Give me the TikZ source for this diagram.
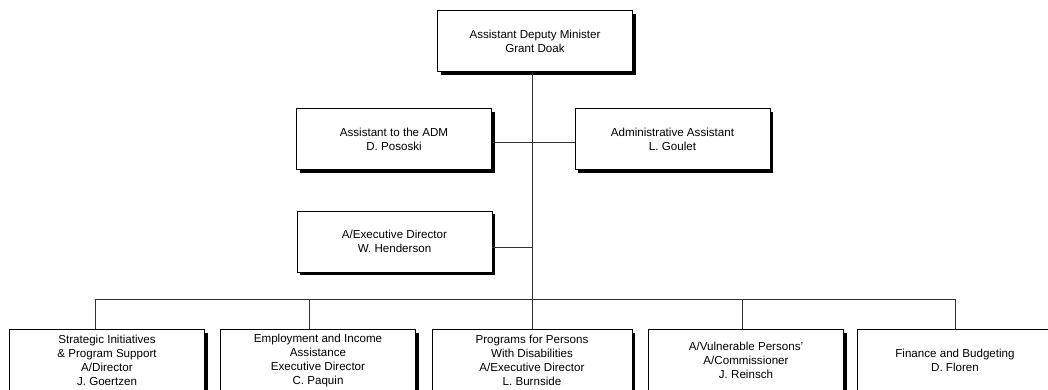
\documentclass[tikz,border=0pt]{standalone}
\usepackage{fontspec}
\setmainfont{Liberation Sans}
\usetikzlibrary{positioning,shadows}

\begin{document}
\begin{tikzpicture}[x=1pt,y=-1pt,
  orgbox/.style={draw=black, fill=white, line width=0.9pt, minimum width=195pt, minimum height=61pt,
    inner sep=0pt, align=center, font=\fontsize{11.6}{14}\selectfont,
    drop shadow={shadow xshift=3.2pt, shadow yshift=-3.2pt, fill=black, opacity=1}},
  orgline/.style={draw=black!80, line width=0.9pt}]

\useasboundingbox[fill=white] (0,0) rectangle (1048,389);

\coordinate (bus) at (532,299);
\coordinate (hubA) at (532,142);
\coordinate (hubB) at (532,247);

\node[orgbox] (adm) at (535,41) {Assistant Deputy Minister\\Grant Doak};

\node[orgbox] (asst) at (394,139) {Assistant to the ADM\\D. Pososki};
\node[orgbox] (admin) at (672.5,139) {Administrative Assistant\\L. Goulet};

\node[orgbox] (exec) at (394.5,241.5) {A/Executive Director\\W. Henderson};

\node[orgbox] (sip) at (107,360) {Strategic Initiatives\\\& Program Support\\A/Director\\J. Goertzen};
\node[orgbox] (eia) at (318,360) {Employment and Income\\Assistance\\Executive Director\\C. Paquin};
\node[orgbox, minimum width=200pt] (ppd) at (532,360) {Programs for Persons\\With Disabilities\\A/Executive Director\\L. Burnside};
\node[orgbox] (vpc) at (746,360) {A/Vulnerable Persons'\\A/Commissioner\\J. Reinsch};
\node[orgbox] (fin) at (955,360) {Finance and Budgeting\\D. Floren};

\coordinate (d1) at (95,299);
\coordinate (d2) at (309,299);
\coordinate (d4) at (742,299);
\coordinate (d5) at (955,299);

\draw[orgline] (adm.south -| bus) -- (ppd.north);
\draw[orgline] (asst.east |- hubA) -- (admin.west |- hubA);
\draw[orgline] (exec.east |- hubB) -- (hubB);

\draw[orgline] (d1) -- (d5);
\draw[orgline] (d1) -- (d1 |- sip.north);
\draw[orgline] (d2) -- (d2 |- eia.north);
\draw[orgline] (d4) -- (d4 |- vpc.north);
\draw[orgline] (d5) -- (fin.north);

\end{tikzpicture}
\end{document}
